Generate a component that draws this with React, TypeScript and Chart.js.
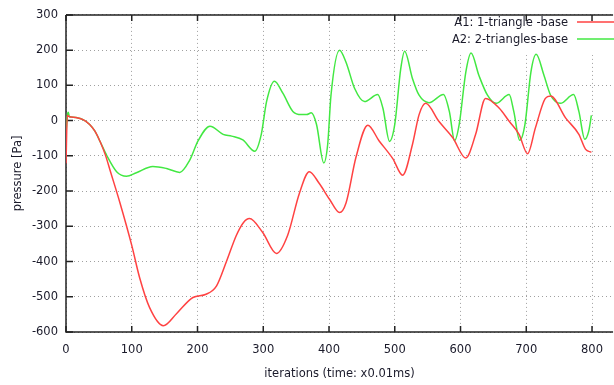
import React, { useEffect, useRef } from "react";
import { Chart, registerables } from "chart.js";

Chart.register(...registerables);

const X_TICKS = [0, 100, 200, 300, 400, 500, 600, 700, 800];
const Y_TICKS = [-600, -500, -400, -300, -200, -100, 0, 100, 200, 300];

const A1_LABEL = "A1: 1-triangle -base";
const A1_X = [0, 2, 4, 8, 15, 26, 36, 44, 52, 60, 67, 82, 100, 112, 127, 148, 168, 193, 213, 229, 244, 259, 270, 279, 299, 320, 337, 355, 370, 385, 401, 416, 426, 441, 459, 476, 497, 512, 527, 537, 547, 567, 588, 608, 623, 638, 659, 674, 689, 702, 714, 729, 737, 760, 780, 790, 799];
const A1_Y = [-122, 15, 12, 10, 9, 3, -11, -30, -60, -98, -141, -233, -354, -446, -530, -582, -548, -502, -493, -469, -400, -326, -289, -278, -317, -377, -326, -206, -145, -178, -224, -261, -233, -104, -13, -57, -108, -155, -67, 17, 49, -2, -48, -106, -39, 63, 35, -2, -39, -94, -20, 63, 70, 7, -39, -81, -90];

const A2_LABEL = "A2: 2-triangles-base";
const A2_X = [0, 2, 3.5, 5, 8, 15, 26, 36, 44, 52, 62, 77, 92, 107, 132, 153, 173, 188, 201, 219, 239, 252, 269, 287, 297, 305, 317, 330, 345, 358, 366, 373, 381, 392, 398, 403, 416, 426, 439, 454, 474, 482, 492, 500, 509, 515, 527, 537, 552, 574, 583, 591, 598, 608, 616, 628, 641, 654, 674, 681, 690, 698, 707, 715, 727, 737, 752, 772, 780, 789, 795, 799];
const A2_Y = [-40, 15, 24, 12, 10, 9, 3, -11, -30, -60, -99, -145, -158, -148, -130, -136, -147, -113, -57, -16, -39, -44, -55, -87, -39, 54, 112, 77, 26, 17, 17, 22, -11, -120, -67, 72, 200, 165, 91, 54, 74, 35, -59, -11, 146, 197, 119, 72, 51, 74, 26, -57, -11, 137, 192, 128, 72, 49, 74, 26, -56, -11, 137, 188, 128, 72, 49, 74, 26, -53, -30, 15];

const RED = "rgb(255,66,66)";
const GREEN = "rgb(66,232,66)";
const FONT = "DejaVu Sans";
const TEXT = "#1a1a2a";
const FSIZE = 11.5;

const framePlugin = {
  id: "gnuFrame",
  beforeDatasetsDraw(chart: any) {
    const { ctx, chartArea } = chart;
    const { left, top, right, bottom } = chartArea;
    const xs = chart.scales.x;
    const ys = chart.scales.y;
    ctx.save();
    // legend box (opaque)
    ctx.fillStyle = "#ffffff";
    ctx.fillRect(428, top + 2, right - 428, 38);
    // frame
    ctx.strokeStyle = "#222";
    ctx.lineWidth = 1.5;
    ctx.beginPath();
    ctx.moveTo(left, top);
    ctx.lineTo(right, top);
    ctx.moveTo(left, top);
    ctx.lineTo(left, bottom);
    ctx.lineTo(right, bottom);
    ctx.stroke();
    // ticks
    ctx.beginPath();
    for (const v of Y_TICKS) {
      const py = ys.getPixelForValue(v);
      ctx.moveTo(left, py);
      ctx.lineTo(left + 7, py);
    }
    for (const v of X_TICKS) {
      const px = xs.getPixelForValue(v);
      ctx.moveTo(px, bottom);
      ctx.lineTo(px, bottom - 6);
      ctx.moveTo(px, top);
      ctx.lineTo(px, top + 6);
    }
    ctx.stroke();
    // legend
    ctx.font = `${FSIZE}px "${FONT}"`;
    ctx.fillStyle = TEXT;
    ctx.textAlign = "right";
    ctx.textBaseline = "middle";
    const entries = [
      { label: A1_LABEL, color: RED, y: 23 },
      { label: A2_LABEL, color: GREEN, y: 40 },
    ];
    for (const e of entries) {
      ctx.fillText(e.label, 568, e.y);
      ctx.strokeStyle = e.color;
      ctx.lineWidth = 1.5;
      ctx.beginPath();
      ctx.moveTo(577, e.y - 1);
      ctx.lineTo(614, e.y - 1);
      ctx.stroke();
    }
    ctx.restore();
  },
};

export default function App() {
  const ref = useRef<HTMLCanvasElement>(null);
  useEffect(() => {
    document.body.style.margin = "0";
    const c = ref.current!;
    const chart = new Chart(c, {
      type: "line",
      data: {
        datasets: [
          {
            label: A1_LABEL,
            data: A1_X.map((x, i) => ({ x, y: A1_Y[i] })),
            borderColor: RED,
            borderWidth: 1.5,
            pointRadius: 0,
            cubicInterpolationMode: "monotone",
            fill: false,
          },
          {
            label: A2_LABEL,
            data: A2_X.map((x, i) => ({ x, y: A2_Y[i] })),
            borderColor: GREEN,
            borderWidth: 1.5,
            pointRadius: 0,
            cubicInterpolationMode: "monotone",
            fill: false,
          },
        ],
      },
      options: {
        animation: false,
        responsive: false,
        events: [],
        layout: { padding: { top: 8, right: 0, left: 0, bottom: 0 } },
        plugins: { legend: { display: false }, tooltip: { enabled: false } },
        scales: {
          x: {
            type: "linear",
            min: 0,
            max: 832,
            afterBuildTicks: (s: any) => {
              s.ticks = X_TICKS.map((v) => ({ value: v }));
            },
            afterFit: (s: any) => {
              s.height = 53;
            },
            grid: { color: "#a0a0a0", lineWidth: 1, drawTicks: false },
            border: { display: false, dash: [1, 3] },
            ticks: {
              padding: 11,
              maxRotation: 0,
              color: TEXT,
              font: { family: FONT, size: FSIZE },
              callback: (v: any) => String(v),
            },
            title: {
              display: true,
              text: "iterations (time: x0.01ms)",
              color: TEXT,
              font: { family: FONT, size: FSIZE },
              padding: { top: 0, bottom: 4 },
            },
          },
          y: {
            type: "linear",
            min: -600,
            max: 300,
            afterBuildTicks: (s: any) => {
              s.ticks = Y_TICKS.map((v) => ({ value: v }));
            },
            afterFit: (s: any) => {
              s.width = 66;
            },
            grid: { color: "#a0a0a0", lineWidth: 1, drawTicks: false },
            border: { display: false, dash: [1, 3] },
            ticks: {
              padding: 8,
              color: TEXT,
              font: { family: FONT, size: FSIZE },
              callback: (v: any) => String(v),
            },
            title: {
              display: true,
              text: "pressure [Pa]",
              color: TEXT,
              font: { family: FONT, size: FSIZE },
              padding: { top: 11, bottom: 0 },
            },
          },
        },
      },
      plugins: [framePlugin],
    } as any);
    return () => chart.destroy();
  }, []);
  return (
    <div style={{ width: 614, height: 385 }}>
      <canvas ref={ref} width={614} height={385} style={{ display: "block" }} />
    </div>
  );
}
